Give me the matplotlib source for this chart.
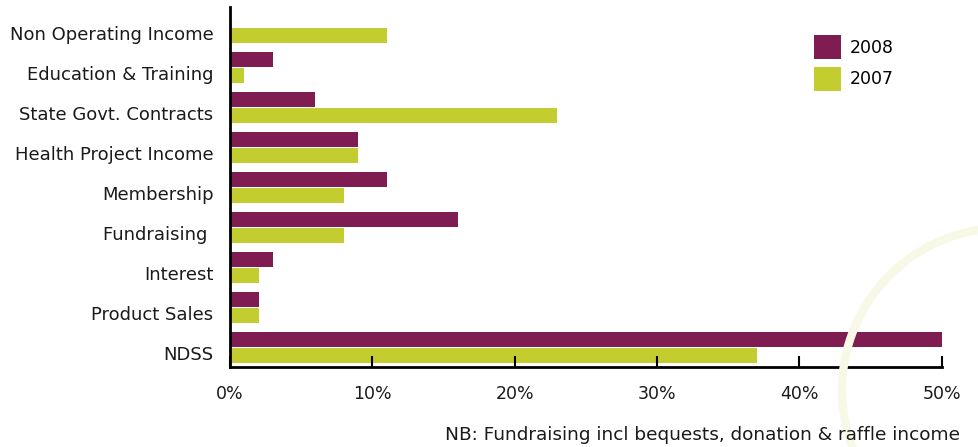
import matplotlib.pyplot as plt
from matplotlib.patches import Arc
import numpy as np

# dados
categorias = ['Non Operating Income', 'Education & Training', 'State Govt. Contracts',
              'Health Project Income', 'Membership', 'Fundraising ', 'Interest',
              'Product Sales', 'NDSS']
valores_2008 = [0, 3, 6, 9, 11, 16, 3, 2, 50]
valores_2007 = [11, 1, 23, 9, 8, 8, 2, 2, 37]
ticks_x = [0, 10, 20, 30, 40, 50]
nota = 'NB: Fundraising incl bequests, donation & raffle income'

roxo = '#7f1c52'
verde = '#c3cd2f'

plt.rcParams['font.family'] = 'DejaVu Sans'

fig = plt.figure(figsize=(9.79, 4.47), dpi=100)

# arco decorativo ao fundo (em polegadas)
arco = Arc((10.04, 0.57), 3.24, 3.24, transform=fig.dpi_scale_trans, theta1=90, theta2=270,
           color='#f7f9e6', lw=6, zorder=0)
fig.patches.append(arco)

ax = fig.add_axes([0.235, 0.179, 0.727, 0.805])
ax.patch.set_alpha(0)

y = np.arange(len(categorias))
altura = 0.38
ax.barh(y - 0.2, valores_2008, height=altura, color=roxo, label='2008')
ax.barh(y + 0.2, valores_2007, height=altura, color=verde, label='2007')

ax.set_ylim(8.49, -0.51)
ax.set_xlim(0, 50)

ax.set_yticks(y + 0.14)
ax.set_yticklabels(categorias, fontsize=13, color='#1a1a1a')
ax.tick_params(axis='y', length=0, pad=12)

ax.set_xticks(ticks_x)
ax.set_xticklabels([f'{t}%' for t in ticks_x], fontsize=12.5, color='#1a1a1a')
ax.tick_params(axis='x', direction='in', length=8, width=1.5, pad=13)

for lado in ['top', 'right']:
    ax.spines[lado].set_visible(False)
for lado in ['left', 'bottom']:
    ax.spines[lado].set_linewidth(2)
    ax.spines[lado].set_color('black')

ax.legend(loc='upper right', bbox_to_anchor=(0.955, 0.966), frameon=False, fontsize=12.5,
          handlelength=1.6, handleheight=1.75, labelspacing=0.45, handletextpad=0.5)

fig.text(0.981, 0.027, nota, ha='right', va='center', fontsize=13.3, color='#1a1a1a')

fig.savefig('out.png', dpi=100)
